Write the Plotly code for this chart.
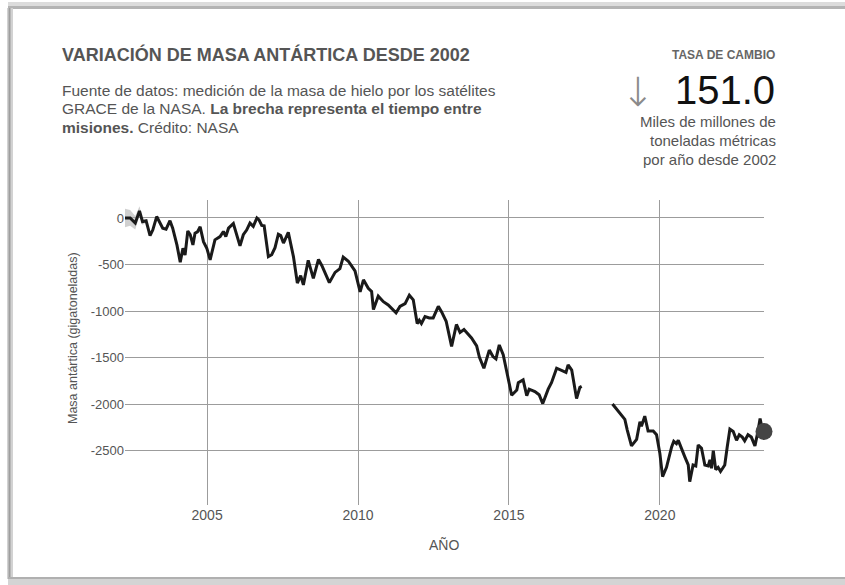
import plotly.graph_objects as go

# ---------------- data ----------------
years_grace = [2002.28, 2002.45, 2002.62, 2002.76, 2002.86, 2002.98, 2003.11, 2003.20, 2003.33, 2003.53,
               2003.64, 2003.77, 2003.86, 2004.00, 2004.11, 2004.20, 2004.27, 2004.36, 2004.44, 2004.53,
               2004.60, 2004.68, 2004.77, 2004.88, 2004.99, 2005.10, 2005.26, 2005.43, 2005.54, 2005.62,
               2005.71, 2005.87, 2006.09, 2006.20, 2006.31, 2006.42, 2006.53, 2006.65, 2006.72, 2006.81,
               2006.89, 2007.03, 2007.14, 2007.25, 2007.36, 2007.44, 2007.53, 2007.69, 2007.86, 2007.99,
               2008.10, 2008.19, 2008.35, 2008.52, 2008.69, 2008.80, 2009.05, 2009.24, 2009.40, 2009.51,
               2009.68, 2009.82, 2009.90, 2010.07, 2010.18, 2010.34, 2010.45, 2010.51, 2010.67, 2010.84,
               2011.00, 2011.26, 2011.39, 2011.56, 2011.70, 2011.83, 2011.96, 2012.03, 2012.10, 2012.22,
               2012.36, 2012.49, 2012.66, 2012.77, 2012.92, 2013.10, 2013.26, 2013.38, 2013.51, 2013.76,
               2013.93, 2014.02, 2014.17, 2014.35, 2014.47, 2014.57, 2014.68, 2014.81, 2014.92, 2015.09,
               2015.26, 2015.31, 2015.47, 2015.59, 2015.67, 2015.86, 2016.00, 2016.12, 2016.30, 2016.41,
               2016.58, 2016.75, 2016.89, 2016.96, 2017.08, 2017.24, 2017.35, 2017.41]
mass_grace = [0, 0, -55, 75, -40, -30, -190, -130, 15, -110,
              -120, -30, -110, -290, -475, -325, -400, -140, -180, -290,
              -165, -150, -95, -255, -325, -450, -235, -200, -145, -200,
              -110, -60, -300, -180, -130, -55, -90, 0, -20, -80,
              -85, -415, -395, -320, -175, -190, -270, -155, -415, -700,
              -620, -720, -455, -650, -445, -510, -695, -585, -545, -420,
              -465, -525, -570, -795, -665, -755, -790, -985, -840, -900,
              -935, -1020, -950, -920, -830, -880, -1135, -1100, -1135, -1060,
              -1075, -1075, -950, -1010, -1110, -1380, -1145, -1230, -1200, -1290,
              -1375, -1495, -1615, -1420, -1490, -1515, -1365, -1470, -1650, -1905,
              -1850, -1770, -1740, -1910, -1840, -1865, -1900, -1995, -1840, -1770,
              -1615, -1635, -1660, -1580, -1635, -1940, -1820, -1810]

years_fo = [2018.43, 2018.57, 2018.73, 2018.84, 2018.92, 2019.06, 2019.23, 2019.34, 2019.39, 2019.50,
            2019.61, 2019.78, 2019.89, 2020.00, 2020.09, 2020.22, 2020.39, 2020.46, 2020.55, 2020.61,
            2020.83, 2020.94, 2020.99, 2021.10, 2021.19, 2021.27, 2021.38, 2021.49, 2021.60, 2021.66,
            2021.71, 2021.77, 2021.85, 2021.93, 2022.01, 2022.15, 2022.23, 2022.32, 2022.43, 2022.54,
            2022.63, 2022.73, 2022.81, 2022.92, 2023.03, 2023.15, 2023.24, 2023.32, 2023.40, 2023.45]
mass_fo = [-2000, -2060, -2130, -2165, -2280, -2450, -2380, -2190, -2240, -2130,
           -2290, -2290, -2330, -2530, -2780, -2680, -2460, -2400, -2425, -2390,
           -2570, -2655, -2835, -2655, -2665, -2440, -2475, -2655, -2665, -2600,
           -2690, -2500, -2705, -2680, -2725, -2655, -2465, -2270, -2295, -2390,
           -2330, -2355, -2395, -2330, -2355, -2450, -2310, -2155, -2280, -2295]

# uncertainty band at the start of the record
band_years = [2002.28, 2002.45, 2002.62, 2002.76, 2002.86, 2002.98, 2003.11]
band_upper = [100, 85, 20, 125, -5, -10, -190]
band_lower = [-100, -85, -125, 25, -75, -50, -190]

y_tick_values = [0, -500, -1000, -1500, -2000, -2500]
y_tick_labels = ["0", "-500", "-1000", "-1500", "-2000", "-2500"]
x_tick_values = [2005, 2010, 2015, 2020]
x_tick_labels = ["2005", "2010", "2015", "2020"]

rate_value = "151.0"

# ---------------- layout helpers ----------------
W, H = 845, 585
L, R, T, B = 125, 81, 200, 80
PW, PH = W - L - R, H - T - B


def fx(p):
    return (p - L) / PW


def fy(p):
    return (H - B - p) / PH


FONT = "Liberation Sans, Arial, Helvetica, sans-serif"
GREY = "#555555"

fig = go.Figure()

fig.add_trace(go.Scatter(
    x=band_years + band_years[::-1],
    y=band_upper + band_lower[::-1],
    fill="toself", fillcolor="rgba(170,170,170,0.55)",
    line=dict(width=0), mode="lines", hoverinfo="skip", showlegend=False))

fig.add_trace(go.Scatter(x=years_grace, y=mass_grace, mode="lines",
                         line=dict(color="#1a1a1a", width=3), showlegend=False))
fig.add_trace(go.Scatter(x=years_fo, y=mass_fo, mode="lines",
                         line=dict(color="#1a1a1a", width=3), showlegend=False))
fig.add_trace(go.Scatter(x=[years_fo[-1]], y=[mass_fo[-1]], mode="markers",
                         marker=dict(color="#444444", size=17), cliponaxis=False,
                         showlegend=False))

annotations = [
    dict(text="<b>VARIACIÓN DE MASA ANTÁRTICA DESDE 2002</b>", x=fx(60), y=fy(55),
         xanchor="left", yanchor="middle", font=dict(size=18, color="#555555")),
    dict(text="Fuente de datos: medición de la masa de hielo por los satélites",
         x=fx(60), y=fy(90), xanchor="left", yanchor="middle", font=dict(size=15.5, color=GREY)),
    dict(text="GRACE de la NASA. <b>La brecha representa el tiempo entre</b>",
         x=fx(60), y=fy(108.5), xanchor="left", yanchor="middle", font=dict(size=15.5, color=GREY)),
    dict(text="<b>misiones.</b> Crédito: NASA",
         x=fx(60), y=fy(127), xanchor="left", yanchor="middle", font=dict(size=15.5, color=GREY)),
    dict(text="<b>TASA DE CAMBIO</b>", x=fx(777), y=fy(55), xanchor="right", yanchor="middle",
         font=dict(size=12, color="#666666")),
    dict(text=rate_value, x=fx(777), y=fy(90), xanchor="right", yanchor="middle",
         font=dict(size=40, color="#111111")),
    dict(text="↓", x=fx(638), y=fy(92), xanchor="center", yanchor="middle",
         font=dict(size=40, color="#8a8a8a",
                   family="DejaVu Sans Light, DejaVu Sans ExtraLight, DejaVu Sans, sans-serif")),
    dict(text="Miles de millones de", x=fx(778), y=fy(121.5), xanchor="right", yanchor="middle",
         font=dict(size=15, color=GREY)),
    dict(text="toneladas métricas", x=fx(778), y=fy(140.5), xanchor="right", yanchor="middle",
         font=dict(size=15, color=GREY)),
    dict(text="por año desde 2002", x=fx(778), y=fy(159.5), xanchor="right", yanchor="middle",
         font=dict(size=15, color=GREY)),
    dict(text="Masa antártica (gigatoneladas)", x=fx(73), y=fy(338), textangle=-90,
         xanchor="center", yanchor="middle", font=dict(size=12.5, color=GREY)),
    dict(text="AÑO", x=fx(444), y=fy(545), xanchor="center", yanchor="middle",
         font=dict(size=14, color=GREY)),
]
for a in annotations:
    a.update(xref="paper", yref="paper", showarrow=False)

# picture frame (screenshot border)
shapes = [
    dict(type="rect", x0=fx(8), x1=fx(845), y0=fy(2), y1=fy(9), fillcolor="#dcdcdc", line_width=0),
    dict(type="rect", x0=fx(8), x1=fx(845), y0=fy(6), y1=fy(9), fillcolor="#b4b4b4", line_width=0),
    dict(type="rect", x0=fx(7), x1=fx(13), y0=fy(8), y1=fy(579), fillcolor="#d2d2d2", line_width=0),
    dict(type="rect", x0=fx(8.5), x1=fx(10.5), y0=fy(8), y1=fy(579), fillcolor="#9e9e9e", line_width=0),
    dict(type="rect", x0=fx(8), x1=fx(845), y0=fy(577), y1=fy(585), fillcolor="#d4d4d4", line_width=0),
    dict(type="rect", x0=fx(8), x1=fx(845), y0=fy(577), y1=fy(579), fillcolor="#b0b0b0", line_width=0),
]
for s in shapes:
    s.update(xref="paper", yref="paper", layer="above")

fig.update_layout(
    width=W, height=H,
    margin=dict(l=L, r=R, t=T, b=B, autoexpand=False),
    paper_bgcolor="white", plot_bgcolor="white",
    font=dict(family=FONT, color=GREY),
    showlegend=False,
    hovermode=False,
    annotations=annotations,
    shapes=shapes,
    xaxis=dict(range=[2002.28, 2023.45], tickvals=x_tick_values, ticktext=x_tick_labels,
               showgrid=True, gridcolor="#9c9c9c", gridwidth=1, zeroline=False,
               showline=False, ticks="", tickfont=dict(size=14, color=GREY), fixedrange=True),
    yaxis=dict(range=[-3085, 193], tickvals=y_tick_values, ticktext=y_tick_labels,
               showgrid=True, gridcolor="#9c9c9c", gridwidth=1, zeroline=False,
               showline=False, ticks="", tickfont=dict(size=13, color=GREY), fixedrange=True),
)

fig.write_html(
    "out.html",
    config={"displayModeBar": False, "staticPlot": True},
    post_script="document.body.style.margin='0px';document.body.style.overflow='hidden';",
)
